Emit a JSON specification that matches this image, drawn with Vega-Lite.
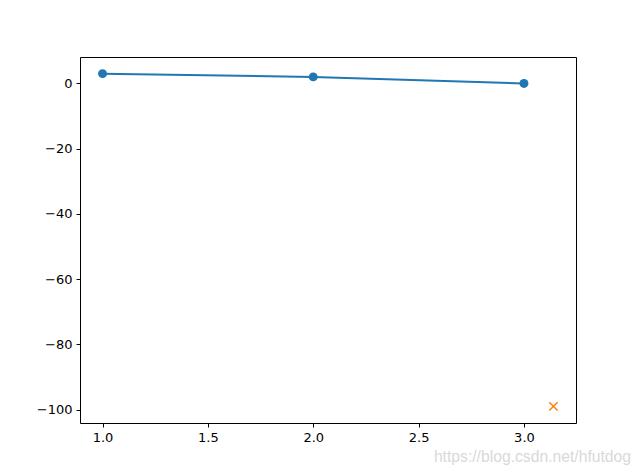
{
  "$schema": "https://vega.github.io/schema/vega-lite/v6.json",
  "width": 496,
  "height": 366,
  "autosize": "none",
  "padding": {"left": 80, "top": 57, "right": 64, "bottom": 53},
  "title": {
    "text": "https://blog.csdn.net/hfutdog",
    "orient": "bottom",
    "anchor": "end",
    "dx": 55,
    "offset": 6,
    "font": "Liberation Sans",
    "fontSize": 15.7,
    "fontWeight": "normal",
    "color": "#d9d9d9"
  },
  "datasets": {
    "line": [
      {"x": 1, "y": 3},
      {"x": 2, "y": 2},
      {"x": 3, "y": 0}
    ],
    "extra": [
      {"x": 3.14, "y": -99}
    ]
  },
  "layer": [
    {
      "data": {"name": "line"},
      "mark": {"type": "line", "color": "#1f77b4", "strokeWidth": 2, "point": {"filled": true, "size": 80, "color": "#1f77b4", "opacity": 1}},
      "encoding": {
        "x": {
          "field": "x",
          "type": "quantitative",
          "scale": {"domain": [0.893, 3.247], "nice": false, "zero": false},
          "axis": {"values": [1, 1.5, 2, 2.5, 3], "format": ".1f", "title": null}
        },
        "y": {
          "field": "y",
          "type": "quantitative",
          "scale": {"domain": [-104.1, 8.1], "nice": false, "zero": false},
          "axis": {"values": [0, -20, -40, -60, -80, -100], "title": null}
        }
      }
    },
    {
      "data": {"name": "extra"},
      "mark": {"type": "point", "shape": "M-1,-1L1,1M-1,1L1,-1", "filled": false, "color": "#ff7f0e", "size": 70, "strokeWidth": 1.5, "opacity": 1},
      "encoding": {
        "x": {"field": "x", "type": "quantitative"},
        "y": {"field": "y", "type": "quantitative"}
      }
    }
  ],
  "config": {
    "view": {"stroke": "#000000", "strokeWidth": 1},
    "axis": {
      "grid": false,
      "domain": false,
      "tickColor": "#000000",
      "tickSize": 4,
      "tickWidth": 1,
      "labelColor": "#000000",
      "labelFont": "DejaVu Sans",
      "labelFontSize": 13,
      "labelPadding": 4
    }
  }
}
